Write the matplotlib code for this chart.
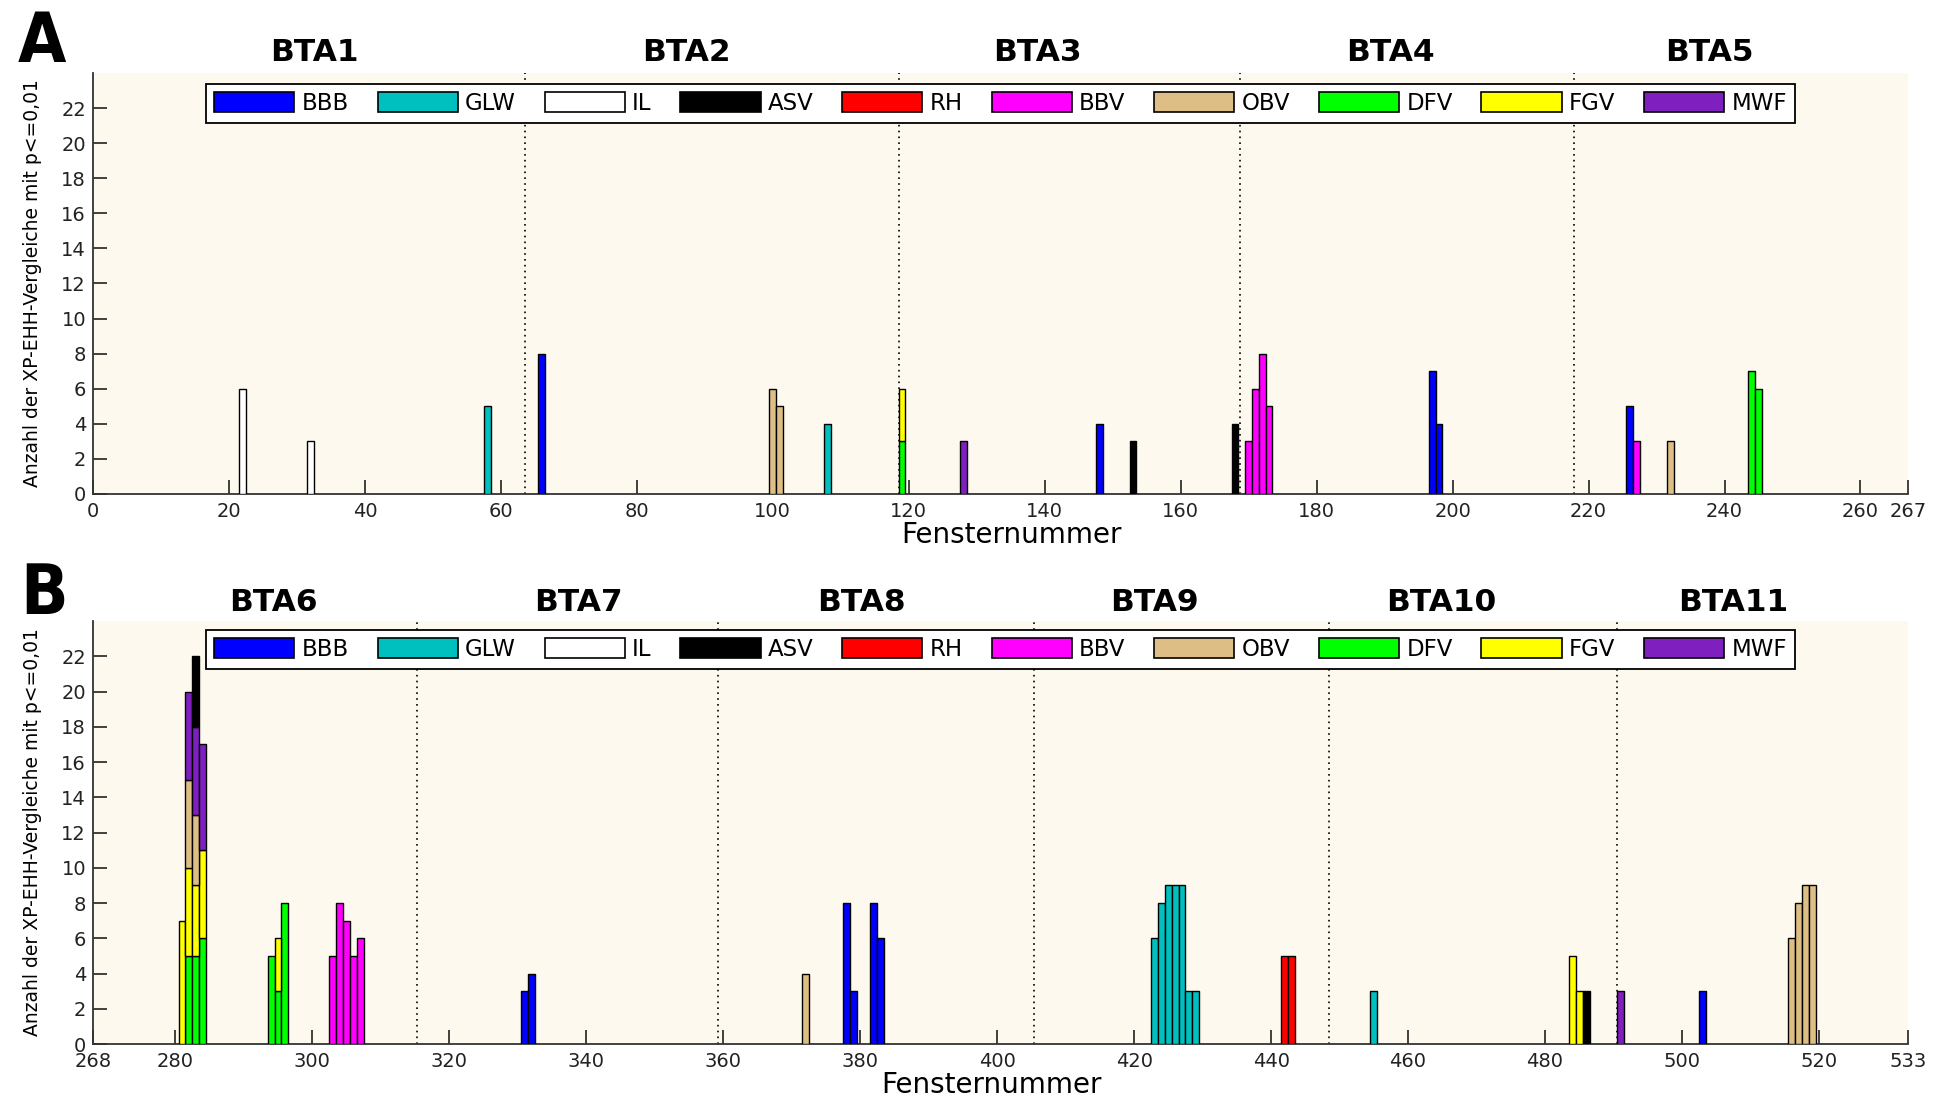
import numpy as np
import matplotlib
matplotlib.use('Agg')
import matplotlib.pyplot as plt
import matplotlib.transforms as mtransforms
from matplotlib.patches import Patch

# breeds in legend order and their colours
breeds = ['BBB', 'GLW', 'IL', 'ASV', 'RH', 'BBV', 'OBV', 'DFV', 'FGV', 'MWF']
colors = ['#0000FF', '#00BFBF', '#FFFFFF', '#000000', '#FF0000',
          '#FF00FF', '#DDBF85', '#00FF00', '#FFFF00', '#7F1FBF']
# order used when bars of one window are stacked
stack_order = ['DFV', 'FGV', 'OBV', 'MWF', 'ASV', 'BBB', 'GLW', 'IL', 'RH', 'BBV']

# window numbers and number of significant XP-EHH comparisons per breed
BBB_win = [66, 148, 197, 198, 226, 331, 332, 378, 379, 382, 383, 503]
BBB_n = [8, 4, 7, 4, 5, 3, 4, 8, 3, 8, 6, 3]
GLW_win = [58, 108, 423, 424, 425, 426, 427, 428, 429, 455]
GLW_n = [5, 4, 6, 8, 9, 9, 9, 3, 3, 3]
IL_win = [22, 32]
IL_n = [6, 3]
ASV_win = [153, 168, 283, 486]
ASV_n = [3, 4, 4, 3]
RH_win = [442, 443]
RH_n = [5, 5]
BBV_win = [170, 171, 172, 173, 227, 303, 304, 305, 306, 307]
BBV_n = [3, 6, 8, 5, 3, 5, 8, 7, 5, 6]
OBV_win = [100, 101, 232, 282, 283, 372, 516, 517, 518, 519]
OBV_n = [6, 5, 3, 5, 4, 4, 6, 8, 9, 9]
DFV_win = [119, 244, 245, 282, 283, 284, 294, 295, 296]
DFV_n = [3, 7, 6, 5, 5, 6, 5, 3, 8]
FGV_win = [119, 281, 282, 283, 284, 295, 484, 485]
FGV_n = [3, 7, 5, 4, 5, 3, 5, 3]
MWF_win = [128, 282, 283, 284, 491]
MWF_n = [3, 5, 5, 6, 3]

data = {'BBB': (BBB_win, BBB_n), 'GLW': (GLW_win, GLW_n), 'IL': (IL_win, IL_n),
        'ASV': (ASV_win, ASV_n), 'RH': (RH_win, RH_n), 'BBV': (BBV_win, BBV_n),
        'OBV': (OBV_win, OBV_n), 'DFV': (DFV_win, DFV_n), 'FGV': (FGV_win, FGV_n),
        'MWF': (MWF_win, MWF_n)}

# chromosome labels, their positions and the borders between chromosomes
chrom_top = ['BTA1', 'BTA2', 'BTA3', 'BTA4', 'BTA5']
chrom_top_x = [32.6, 87.3, 139.0, 190.8, 237.7]
borders_top = [63.6, 118.5, 168.7, 217.8]
chrom_bot = ['BTA6', 'BTA7', 'BTA8', 'BTA9', 'BTA10', 'BTA11']
chrom_bot_x = [294.3, 338.8, 380.2, 423.0, 464.8, 507.5]
borders_bot = [315.3, 359.3, 405.4, 448.5, 490.5]

xticks_top = [0, 20, 40, 60, 80, 100, 120, 140, 160, 180, 200, 220, 240, 260, 267]
xticks_bot = [268, 280, 300, 320, 340, 360, 380, 400, 420, 440, 460, 480, 500, 520, 533]
yticks = [0, 2, 4, 6, 8, 10, 12, 14, 16, 18, 20, 22]

plt.rcParams['font.family'] = ['DejaVu Sans']
bg = '#FEF9EE'
col = dict(zip(breeds, colors))


def draw_panel(ax, lo, hi, names, name_x, borders, xticks, title_off, leg_off, xlab_x):
    ax.set_facecolor(bg)
    bottoms = {}
    for b in stack_order:
        win, n = data[b]
        xs = [w for w in win if lo <= w <= hi]
        hs = [c for w, c in zip(win, n) if lo <= w <= hi]
        if not xs:
            continue
        base = [bottoms.get(w, 0) for w in xs]
        ax.bar(xs, hs, width=1.0, bottom=base, color=col[b],
               edgecolor='black', linewidth=1.0, zorder=3)
        for w, c in zip(xs, hs):
            bottoms[w] = bottoms.get(w, 0) + c
    for x in borders:
        ax.axvline(x, color='black', linestyle=(0, (1, 2.5)), linewidth=1.2, zorder=2)
    ax.set_xlim(lo, hi)
    ax.set_ylim(0, 24)
    ax.set_xticks(xticks)
    ax.set_yticks(yticks)
    ax.tick_params(direction='in', length=10, width=1.2, labelsize=14,
                   labelcolor='#222222', color='#222222')
    ax.tick_params(axis='x', pad=6)
    ax.tick_params(axis='y', pad=5)
    for s in ['top', 'right']:
        ax.spines[s].set_visible(False)
    for s in ['left', 'bottom']:
        ax.spines[s].set_linewidth(1.3)
        ax.spines[s].set_color('#333333')
    ax.set_xlabel('Fensternummer', fontsize=20)
    ax.xaxis.set_label_coords(xlab_x, -0.064)
    ax.set_ylabel('Anzahl der XP-EHH-Vergleiche mit p<=0,01', fontsize=13.5, labelpad=14)
    trans = mtransforms.blended_transform_factory(ax.transData, ax.transAxes)
    for name, x in zip(names, name_x):
        ax.text(x, 1 + title_off, name, transform=trans, ha='center', va='center',
                fontsize=22.5, fontweight='bold')
    handles = [Patch(facecolor=col[b], edgecolor='black', linewidth=1.2) for b in breeds]
    leg = ax.legend(handles, breeds, loc='upper center',
                    bbox_to_anchor=(0.5, 1 - leg_off), ncol=10, fontsize=16.5,
                    handlelength=3.5, handleheight=0.96, handletextpad=0.32,
                    columnspacing=1.25, borderpad=0.36, borderaxespad=0,
                    fancybox=False, framealpha=1, edgecolor='black')
    leg.get_frame().set_linewidth(1.3)
    leg.set_zorder(5)


fig = plt.figure(figsize=(19.46, 10.96), dpi=100)
ax1 = fig.add_axes([0.0478, 0.5493, 0.9327, 0.3841])
ax2 = fig.add_axes([0.0478, 0.0474, 0.9327, 0.3860])

draw_panel(ax1, 0, 267, chrom_top, chrom_top_x, borders_top, xticks_top, 0.0475, 0.026, 0.506)
draw_panel(ax2, 268, 533, chrom_bot, chrom_bot_x, borders_bot, xticks_bot, 0.0426, 0.021, 0.495)

fig.text(42 / 1946, 1 - 42 / 1096, 'A', ha='center', va='center', fontsize=50,
         fontweight='bold', fontstretch='condensed', family='DejaVu Sans')
fig.text(44 / 1946, 1 - 594 / 1096, 'B', ha='center', va='center', fontsize=50,
         fontweight='bold', fontstretch='condensed', family='DejaVu Sans')

fig.savefig('out.png', dpi=100)
